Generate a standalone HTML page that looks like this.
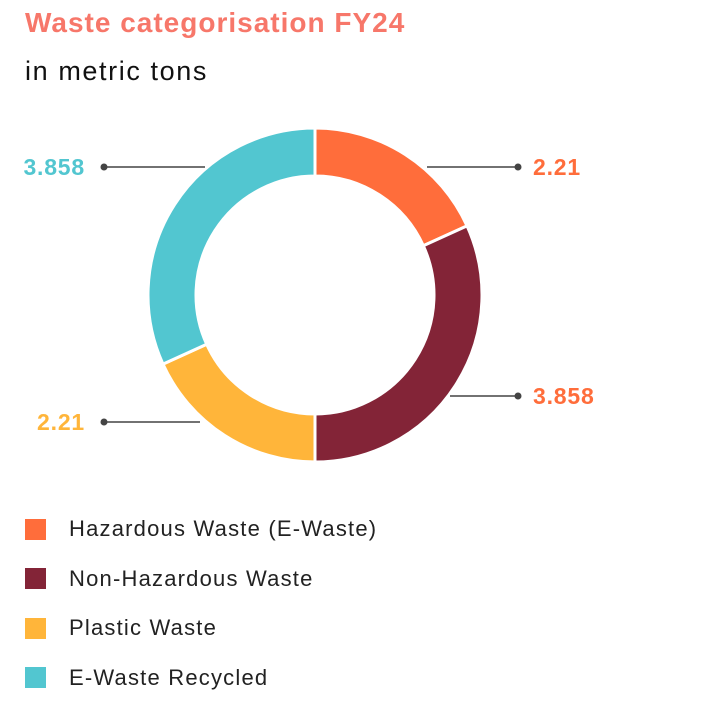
<!DOCTYPE html>
<html><head><meta charset="utf-8"><style>
html,body{margin:0;padding:0;background:#fff;width:706px;height:703px;overflow:hidden;font-family:"Liberation Sans",sans-serif}
.title{position:absolute;left:25px;top:7px;font-size:28px;font-weight:bold;color:#F7776A;letter-spacing:1px}
.sub{position:absolute;left:25px;top:56px;font-size:27px;color:#111;letter-spacing:1.6px}
.leg{position:absolute;left:25px;display:flex;align-items:center;font-size:22px;color:#222;letter-spacing:1.2px}
.leg span.sw{width:21px;height:21px;margin-right:23px;display:inline-block}
</style></head><body>
<div class="title">Waste categorisation FY24</div>
<div class="sub">in metric tons</div>
<svg id="c" width="706" height="703" style="position:absolute;left:0;top:0"></svg>
<div id="legend"></div>
<script>
const categories=["Hazardous Waste (E-Waste)","Non-Hazardous Waste","Plastic Waste","E-Waste Recycled"];
const values=[2.21,3.858,2.21,3.858];
const labels=["2.21","3.858","2.21","3.858"];
const colors=["#FF6D3B","#832437","#FFB53A","#52C6D0"];
const labelColors=["#FF6D3B","#FF6D3B","#FFB53A","#52C6D0"];
const svg=document.getElementById('c');const NS="http://www.w3.org/2000/svg";
const cx=315,cy=295,R=167,r=119;
const leaderY=[167,396,422,167];
const leaderStart=[427,450,200,205];
const total=values.reduce((a,b)=>a+b,0);
function pt(a,rad){return [cx+rad*Math.sin(a),cy-rad*Math.cos(a)];}
let a0=0;
values.forEach((v,i)=>{
 const a1=a0+v/total*2*Math.PI;const lg=(a1-a0)>Math.PI?1:0;
 const p1=pt(a0,R),p2=pt(a1,R),p3=pt(a1,r),p4=pt(a0,r);
 const p=document.createElementNS(NS,'path');
 p.setAttribute('d',`M${p1}A${R},${R} 0 ${lg} 1 ${p2}L${p3}A${r},${r} 0 ${lg} 0 ${p4}Z`);
 p.setAttribute('fill',colors[i]);p.setAttribute('stroke','#fff');p.setAttribute('stroke-width','3');
 
 
 svg.appendChild(p);
 const mid=(a0+a1)/2;const right=Math.sin(mid)>0;
 const ly=leaderY[i];
 const dx=right?518:104;
 const ln=document.createElementNS(NS,'line');
 ln.setAttribute('x1',leaderStart[i]);ln.setAttribute('y1',ly);ln.setAttribute('x2',dx);ln.setAttribute('y2',ly);
 ln.setAttribute('stroke','#444');ln.setAttribute('stroke-width','1.5');
 
 
 svg.appendChild(ln);
 const c=document.createElementNS(NS,'circle');c.setAttribute('cx',dx);c.setAttribute('cy',ly);c.setAttribute('r',3.5);c.setAttribute('fill','#444');
 
 
 svg.appendChild(c);
 const t=document.createElementNS(NS,'text');
 t.setAttribute('x',right?533:85);t.setAttribute('y',ly+8);t.setAttribute('text-anchor',right?'start':'end');
 t.setAttribute('font-size','23');t.setAttribute('font-weight','bold');t.setAttribute('fill',labelColors[i]);
 t.setAttribute('letter-spacing','0.8');
 t.setAttribute('font-family','Liberation Sans, sans-serif');t.textContent=labels[i];
 
 
 svg.appendChild(t);
 a0=a1;
});
const lg=document.getElementById('legend');
categories.forEach((c,i)=>{
 const d=document.createElement('div');d.className='leg';d.style.top=(516+i*49.5)+'px';
 d.innerHTML=`<span class="sw" style="background:${colors[i]}"></span><span>${c}</span>`;
 
 
 lg.appendChild(d);
});
</script>
</body></html>
